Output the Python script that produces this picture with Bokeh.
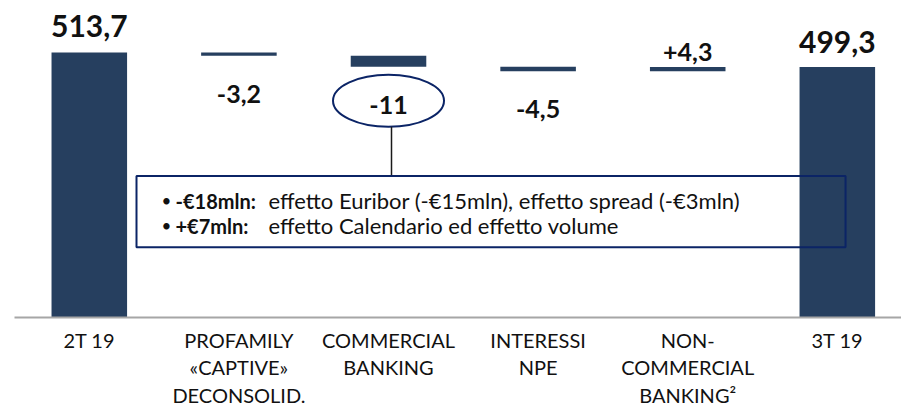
from bokeh.plotting import figure
from bokeh.models import ColumnDataSource, Range1d, FixedTicker, BoxAnnotation
from bokeh.core.properties import value
from bokeh.embed import file_html
from bokeh.resources import INLINE

# ---------------- data ----------------
categories = ["2T 19", "PROFAMILY\n«CAPTIVE»\nDECONSOLID.", "COMMERCIAL\nBANKING",
              "INTERESSI\nNPE", "NON-\nCOMMERCIAL\nBANKING²", "3T 19"]
start_value = 513.7
deltas = [-3.2, -11.0, -4.5, 4.3]
end_value = 499.3
value_labels = ["513,7", "-3,2", "-11", "-4,5", "+4,3", "499,3"]
note_bold = ["-€18mln:", "+€7mln:"]
note_text = ["effetto Euribor (-€15mln), effetto spread (-€3mln)",
             "effetto Calendario ed effetto volume"]
highlight_index = 2

# ---------------- style ----------------
BAR = "#263F5F"
NAVY = "#0B2466"
TXT = "#111111"
FONT = "Lato"
Y0, Y1 = 248.7, 565.7          # truncated value axis
FRAME_H = 317
PX = (Y1 - Y0) / FRAME_H        # data units per screen pixel

# ---------------- waterfall geometry ----------------
xs = list(range(len(categories)))
bottoms, tops, anchor_y, off_y = [], [], [], []
running = start_value
bottoms.append(Y0); tops.append(start_value); anchor_y.append(start_value); off_y.append(-27)
for d in deltas:
    nxt = running + d
    lo, hi = min(running, nxt), max(running, nxt)
    bottoms.append(lo); tops.append(hi)
    if d < 0:
        anchor_y.append(lo); off_y.append(38)
    else:
        anchor_y.append(hi); off_y.append(-15)
    running = nxt
bottoms.append(Y0); tops.append(end_value); anchor_y.append(end_value); off_y.append(-25)

sizes = ["30px" if i in (0, len(xs) - 1) else "25px" for i in xs]

src = ColumnDataSource(dict(x=xs, bottom=bottoms, top=tops, ay=anchor_y, oy=off_y,
                            label=value_labels, size=sizes))

p = figure(width=901, height=418, output_backend="svg", toolbar_location=None,
           x_range=Range1d(-0.5, 5.429), y_range=Range1d(Y0, Y1),
           min_border_left=14, min_border_right=0, min_border_top=0, min_border_bottom=101)
p.outline_line_color = None
p.xgrid.visible = False
p.ygrid.visible = False
p.yaxis.visible = False

p.vbar(x="x", width=0.505, bottom="bottom", top="top", source=src,
       fill_color=BAR, line_color=None)

p.text(x="x", y="ay", text="label", y_offset="oy", source=src,
       text_align="center", text_baseline="middle", text_font=value(FONT),
       text_font_style="bold", text_font_size="size", text_color=TXT)

# highlight ellipse + connector + note box
hb = bottoms[highlight_index]
ell_y = hb - 34 * PX
p.ellipse(x=[xs[highlight_index]], y=[ell_y], width=111, height=52,
          width_units="screen", height_units="screen",
          fill_color=None, line_color=NAVY, line_width=2)

box_left, box_right = 0.3155, 5.055
box_top, box_bottom = 390.2, 319.0
p.segment(x0=[xs[highlight_index] + 0.02], y0=[ell_y - 26 * PX],
          x1=[xs[highlight_index] + 0.02], y1=[box_top], line_color="#1a1a1a", line_width=1.5)
p.add_layout(BoxAnnotation(left=box_left, right=box_right, top=box_top, bottom=box_bottom,
                           fill_alpha=0, line_color=NAVY, line_alpha=1.0, line_width=2,
                           level="overlay"))

line_y = [box_top - 24.5 * PX, box_top - 49.5 * PX]
p.text(x=[box_left] * 2, y=line_y, text=["•", "•"], x_offset=25,
       text_baseline="middle", text_font=value(FONT), text_font_size="17px", text_color=TXT)
p.text(x=[box_left] * 2, y=line_y, text=note_bold, x_offset=39,
       text_baseline="middle", text_font=value(FONT), text_font_style="bold",
       text_font_size="20px", text_color=TXT)
p.text(x=[box_left] * 2, y=line_y, text=note_text, x_offset=132,
       text_baseline="middle", text_font=value(FONT),
       text_font_size="22px", text_color=TXT)

# category axis
ax = p.xaxis[0]
ax.ticker = FixedTicker(ticks=xs)
ax.major_label_overrides = {i: c for i, c in zip(xs, categories)}
ax.major_tick_line_color = None
ax.minor_tick_line_color = None
ax.axis_line_color = "#A6A6A6"
ax.axis_line_width = 2
ax.major_label_standoff = 4
ax.major_label_text_font = FONT
ax.major_label_text_font_size = "20px"
ax.major_label_text_color = TXT
ax.major_label_text_line_height = 1.15

open("out.html", "w").write(file_html(p, INLINE))
